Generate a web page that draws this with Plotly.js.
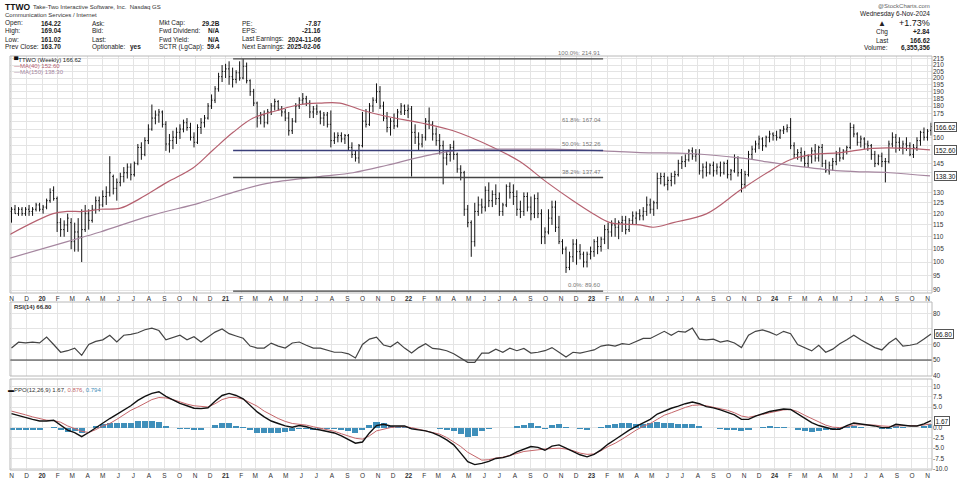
<!DOCTYPE html>
<html><head><meta charset="utf-8">
<script src="https://cdn.plot.ly/plotly-3.0.1.min.js"></script>
<style>html,body{margin:0;padding:0;background:#fff}#c{width:960px;height:480px}</style>
</head><body><div id="c"></div>
<script>
// ---------- DATA (weekly bars from 2019-11-01, one per week) ----------
const firstWeek = '2019-11-01';
const open = [121,122,120,122,120,122,121,122,124,122,123,126,131,127,116,113,115,116,108,112,110,113,120,117,122,126,124,128,130,138,132,135,138,140,143,139,145,154,150,158,165,172,174,176,168,156,158,160,163,165,169,166,160,157,166,169,172,180,184,192,201,205,207,201,199,204,200,209,198,190,182,172,174,169,176,180,183,178,176,172,164,170,180,184,185,182,176,178,176,172,174,168,158,160,161,159,161,154,150,148,155,170,168,180,184,190,180,172,166,170,167,176,180,177,178,163,160,156,160,170,168,162,158,155,148,150,154,150,142,140,122,116,108,121,124,123,131,126,129,127,121,124,133,130,128,122,121,128,123,120,127,120,110,112,118,123,114,108,105,98,102,107,104,103,100,103,104,108,106,109,113,112,115,114,116,117,113,117,118,120,119,121,124,122,125,137,138,134,136,138,139,145,146,147,152,149,150,141,143,140,144,141,143,140,145,139,141,148,140,134,139,150,153,156,159,155,160,162,161,160,164,165,166,155,150,151,148,145,149,152,148,154,145,141,144,146,150,148,152,154,166,162,157,159,156,155,150,145,149,146,146,156,160,157,154,156,155,150,154,158,163,160,164.22];
const high = [123,124,123,123,123,124,123,125,125,124,127,132,133,128,118,117,120,118,116,118,122,124,122,124,128,128,131,133,149,139,137,140,143,145,145,146,156,157,160,168,181,177,178,177,170,162,164,166,168,171,172,169,163,168,172,174,182,188,194,204,210,211,213,208,206,213,214.91,212,199,192,183,176,177,178,182,185,184,180,178,176,172,182,186,189,187,184,180,181,177,176,176,177,163,163,163,162,162,157,152,156,176,178,182,186,196,194,183,176,172,175,178,182,181,181,180,168,163,162,172,179,170,166,162,158,152,156,158,151,144,141,124,117,125,128,127,133,135,131,134,130,125,134,135,134,131,126,130,130,128,129,130,122,114,122,126,126,119,109,106,104,109,109,107,104,104,106,109,110,110,115,116,117,118,117,119,119,118,121,121,122,123,128,127,126,140,140,140,138,140,141,147,149,150,153,154,153,153,145,146,145,146,145,146,146,147,142,150,149,142,141,152,155,158,161,160,161,164,163,164,165,167,168,172,157,153,154,152,150,154,156,155,156,147,146,148,152,154,153,155,169,168,163,161,160,158,156,152,150,151,148,158,163,162,160,158,160,157,156,160,164,166,165,169.04];
const low = [116,120,119,119,119,119,119,121,121,120,122,125,126,112,110,110,112,105,104,104,100,112,113,116,120,121,123,124,128,129,126,133,135,137,136,138,144,147,149,156,164,168,169,166,152,151,153,156,159,163,164,158,154,156,162,166,171,178,182,190,197,200,195,193,196,198,199,196,187,180,166,168,166,168,174,177,177,173,170,161,162,169,178,181,180,172,172,174,168,167,166,154,156,157,157,156,152,148,146,145,154,166,167,176,182,178,170,163,161,165,166,174,174,172,138,156,152,154,158,165,158,155,150,134,144,146,147,140,136,119,114,102,106,119,120,121,123,123,124,119,119,123,127,124,119,118,119,121,117,118,118,107,107,111,115,112,107,103,96,97,100,99,101,98,98,101,102,103,104,107,105,110,110,109,112,111,112,115,115,117,117,119,120,119,122,134,133,131,133,134,138,142,143,146,147,146,139,137,138,139,138,139,138,139,137,136,140,138,130,132,138,147,151,153,152,154,157,158,158,159,162,163,153,148,147,146,143,143,145,146,146,143,140,139,141,144,146,147,150,153,160,155,154,153,152,147,143,144,143,135,145,154,151,152,150,152,149,148,152,155,158,158,161.02];
const close = [122,120,122,120,122,121,122,124,122,123,126,130,127,116,113,115,118,108,112,110,113,120,117,122,126,124,128,130,140,132,135,138,140,143,139,145,154,150,158,165,172,174,176,168,156,158,160,163,165,169,166,160,157,166,169,172,180,184,192,201,205,207,201,199,204,200,209,198,190,182,172,174,169,176,180,183,178,176,172,164,170,180,184,185,182,176,178,176,172,174,168,158,160,161,159,161,154,150,148,155,170,168,180,184,190,180,172,166,170,167,176,180,177,178,163,160,156,160,170,168,162,158,155,148,150,154,150,142,140,122,116,108,121,124,123,131,126,129,127,121,124,133,130,128,122,121,128,123,120,127,120,110,112,118,123,114,108,105,98,102,107,104,103,100,103,104,108,106,109,113,112,115,114,116,117,113,117,119,120,119,121,124,122,125,137,138,134,136,138,139,145,146,147,152,149,150,141,143,140,144,141,143,140,145,139,141,148,140,134,139,150,153,156,159,155,160,162,161,160,164,165,166,155,150,151,148,145,149,152,148,154,145,141,144,146,150,148,152,154,166,162,157,159,156,155,150,145,149,146,146,156,160,157,154,156,155,150,154,158,163,160,163.7,166.62];

// moving averages
const ma40Dates = ['2019-10-29','2020-01-23','2020-02-20','2020-03-23','2020-04-26','2020-06-05','2020-07-14','2020-09-06','2020-10-28','2020-12-07','2021-01-16','2021-02-25','2021-04-14','2021-05-30','2021-07-08','2021-08-17','2021-10-02','2021-11-19','2022-01-24','2022-03-31','2022-06-19','2022-08-11','2022-10-04','2022-11-25','2023-01-04','2023-02-07','2023-04-08','2023-05-04','2023-06-13','2023-08-19','2023-10-24','2023-12-17','2024-02-01','2024-03-18','2024-05-11','2024-07-15','2024-09-21','2024-11-06'];
const ma40 = [111,120,121,121,122,122.5,127,135,142.5,152.5,163,172,177,181,182,182,177,173,169,164,154,146,135,126,120,116,115,114,116,120,131,140,147,150,151,153.5,153.5,152.6];
const ma150Dates = ['2019-10-29','2020-02-20','2020-04-26','2020-08-03','2020-11-11','2021-01-16','2021-03-25','2021-07-08','2021-09-12','2021-11-19','2022-01-24','2022-03-31','2022-06-07','2022-08-11','2022-10-16','2023-01-24','2023-04-08','2023-07-16','2023-10-24','2024-02-01','2024-05-11','2024-08-18','2024-11-06'];
const ma150 = [101.5,108,112,119,125,130,134.5,138,140,144,148.5,152,153,153,153,152,151,150.5,148,144,141,140,138.3];

// Fibonacci retracement
const fibPct = ['100.0%','61.8%','50.0%','38.2%','0.0%'];
const fibLevel = [214.91,167.04,152.26,137.47,89.60];
const fibDrawn = [true,false,true,true,true];
const fibFrom = '2021-01-16', fibTo = '2023-01-24';

// indicators, one value every second week (from first week)
const rsi = [57.7,61.5,61,61.5,61,64.8,60,55,56,57.7,53,60,62,63,66,61.6,66,66.5,67.6,69.5,70.6,69,63,64.5,66,63,65,61.6,64.8,68,70,67,65.5,64,59,57.7,57.7,60.9,59,57.7,61,61.6,59.5,57.7,57.7,56.5,55,55,54,51.3,60,63.5,64.8,59.7,58.5,61.6,57.7,54.5,58,60.5,57.5,57,56,54,51,48.5,48.5,54.5,54.5,57,55,57.7,56,57.5,54.5,55,56,58,55,52,55,54.5,55.5,56.5,59,59.7,59,60.5,60,62,63.9,63.9,66,68.5,66,68.5,68,70.6,63.5,63,63.5,61.6,62.5,61,58,66,68.5,69.4,68,66,68.5,67,60,58,55.9,59.5,55,57,60.5,63,66,63,60.5,58,56.5,61,64,59,59.5,60.5,63.5,66.8];
const ppo = [3.4,2.9,2.4,2.0,1.6,1.6,1.8,0.6,-0.6,-1.2,-2.2,-1.2,0,1.2,2.2,3.2,4.2,5.3,6.6,7.6,8.3,8.7,7.6,6.8,5.9,5.3,4.7,4.6,4.8,6.4,7.8,8.3,7.8,7.0,5.5,3.8,2.6,1.6,1.0,0.4,0.1,0.5,0.2,-0.3,-0.6,-1.0,-1.3,-2.0,-2.8,-3.8,-3.5,-1.3,0.5,0.8,0.4,0.4,0.4,-0.3,-0.6,-0.8,-1.3,-2.0,-3.0,-4.2,-6.2,-8.3,-9.0,-8.7,-8.2,-7.5,-7.3,-6.8,-5.9,-5.2,-4.6,-4.8,-5.5,-4.5,-4.2,-5.0,-5.8,-6.6,-7.1,-6.5,-5.4,-4.0,-2.9,-1.7,-0.6,0.3,1.2,2.0,3.3,4.1,4.7,5.2,5.8,6.2,5.8,5.1,4.8,4.3,3.7,3.1,2.0,2.0,2.8,3.4,3.9,4.2,4.5,4.4,3.4,2.2,1.2,0.5,0,-0.4,-0.4,0.5,1.1,0.9,0.7,0.4,0,0,0.8,0.6,0.4,0.4,0.9,1.67];
const signal = [4.0,3.6,3.1,2.6,2.2,1.8,1.7,1.3,0.4,-0.3,-0.9,-1.2,-0.5,0.4,1.0,2.0,3.2,4.2,5.0,6.0,6.8,7.3,7.2,6.8,6.2,5.7,5.3,5.1,5.0,5.8,6.8,7.3,7.3,6.9,6.0,5.2,4.0,3.0,2.2,1.5,1.0,0.8,0.6,0.2,-0.2,-0.6,-0.9,-1.5,-2.0,-2.6,-2.8,-2.0,-0.8,-0.4,0,0.2,0.2,0,-0.4,-0.8,-1.2,-1.6,-2.4,-3.4,-4.6,-6.0,-7.0,-7.9,-7.8,-7.4,-7.2,-6.8,-6.3,-5.8,-5.6,-5.3,-5.2,-5.1,-5.0,-5.2,-5.6,-6.2,-6.5,-6.4,-5.6,-4.6,-3.8,-2.8,-1.6,-0.6,0.3,1.0,2.0,3.0,3.6,4.3,4.9,5.4,5.5,5.3,4.9,4.6,4.2,3.6,2.8,2.5,2.8,3.2,3.6,4.0,4.3,4.4,3.9,3.0,2.2,1.4,0.6,0.1,0,0.2,0.6,0.7,0.7,0.6,0.4,0.3,0.4,0.5,0.5,0.4,0.6,0.876];

// axis tick labels
const monthLetters = ['J','F','M','A','M','J','J','A','S','O','N','D'];
const priceTicks = [90,95,100,105,110,115,120,125,130,135,140,145,150,155,160,165,170,175,180,185,190,195,200,205,210,215];
const rsiTicks = [40,50,60,70,80];
const ppoTicks = [-10,-7.5,-5,-2.5,0,2.5,5,7.5,10];
const ppoTickText = ['-10.0','-7.5','-5.0','-2.5','0.0','2.5','5.0','7.5','10'];

// ---------- BUILD ----------
const DAY = 864e5;
const t0 = Date.parse(firstWeek + 'T00:00:00Z');
const iso = ms => new Date(ms).toISOString().slice(0,10);
const weekDates = close.map((_, i) => iso(t0 + i*7*DAY));
const biDates = rsi.map((_, k) => iso(t0 + k*14*DAY));
const hist = ppo.map((v, k) => v - signal[k]);
const last = a => a[a.length-1];

const xRange = ['2019-10-29','2024-11-10'];
const tickvals = [], ticktext = [];
for (let y = 2019, m = 10; y < 2025; ) {
  if (y === 2024 && m > 10) break;
  tickvals.push(y + '-' + String(m+1).padStart(2,'0') + '-01');
  ticktext.push(m === 0 ? '<b>' + String(y).slice(2) + '</b>' : monthLetters[m]);
  m++; if (m === 12) { m = 0; y++; }
}

// geometry (pixels -> paper)
const L = 10, W = 922, H = 480;
const PX = x => (x - L) / W;
const PY = y => 1 - y / H;
const priceDom = [PY(293), PY(56)];
const rsiDom = [PY(376), PY(302)];
const ppoDom = [PY(470), PY(379)];
const priceRange = [Math.log10(89.0), Math.log10(217.3)];
const rsiRange = [39.7, 87.4];
const ppoRange = [-10.3, 11.8];

// tick labels that sit under the right-edge value boxes are hidden, as on the original
const GAP = 6.5;
const pricePx = v => (priceDom[1]-priceDom[0])*H * (Math.log10(v)-priceRange[0])/(priceRange[1]-priceRange[0]);
const linPx = (v, dom, r) => (dom[1]-dom[0])*H * (v-r[0])/(r[1]-r[0]);
const priceBoxes = [last(close), last(ma40), last(ma150)];
const priceTickText = priceTicks.map(t => priceBoxes.some(b => Math.abs(pricePx(t)-pricePx(b)) < GAP) ? '' : String(t));
const rsiTickText = rsiTicks.map(t => Math.abs(linPx(t, rsiDom, rsiRange)-linPx(last(rsi), rsiDom, rsiRange)) < GAP ? '' : String(t));
const ppoTickShown = ppoTicks.map((t, j) => Math.abs(linPx(t, ppoDom, ppoRange)-linPx(last(ppo), ppoDom, ppoRange)) < GAP ? '' : ppoTickText[j]);

const FONT = 'Liberation Sans, Arial, sans-serif';
const grid = '#e4e4e4';

const traces = [
  {type:'ohlc', x:weekDates, open, high, low, close, xaxis:'x', yaxis:'y',
   increasing:{line:{color:'#111', width:1}}, decreasing:{line:{color:'#111', width:1}},
   tickwidth:0.3, hoverinfo:'skip'},
  {type:'scatter', mode:'lines', x:ma40Dates, y:ma40, xaxis:'x', yaxis:'y',
   line:{color:'#b5606f', width:1.2, shape:'spline'}, hoverinfo:'skip'},
  {type:'scatter', mode:'lines', x:ma150Dates, y:ma150, xaxis:'x', yaxis:'y',
   line:{color:'#a5869f', width:1.2, shape:'spline'}, hoverinfo:'skip'},
  // carrier for the month-label row under the price panel
  {type:'scatter', mode:'lines', x:xRange, y:[100,100], xaxis:'x2', yaxis:'y',
   line:{width:0, color:'rgba(0,0,0,0)'}, hoverinfo:'skip'}
];
fibLevel.forEach((v, j) => {
  if (!fibDrawn[j]) return;
  traces.push({type:'scatter', mode:'lines', x:[fibFrom, fibTo], y:[v, v], xaxis:'x', yaxis:'y',
    line:{color: j === 2 ? '#3a3f7a' : '#444', width: j === 0 || j === 4 ? 1.2 : 1.5}, hoverinfo:'skip'});
});
traces.push(
  {type:'scatter', mode:'lines', x:xRange, y:[50,50], xaxis:'x', yaxis:'y2',
   line:{color:'#333', width:1}, hoverinfo:'skip'},
  {type:'scatter', mode:'lines', x:biDates, y:rsi, xaxis:'x', yaxis:'y2',
   line:{color:'#444', width:1.2}, hoverinfo:'skip'},
  {type:'bar', x:biDates, y:hist, xaxis:'x', yaxis:'y3', width:12*DAY,
   marker:{color:'#3f8fba', line:{width:0}}, hoverinfo:'skip'},
  {type:'scatter', mode:'lines', x:biDates, y:signal, xaxis:'x', yaxis:'y3',
   line:{color:'#c5666a', width:1}, hoverinfo:'skip'},
  {type:'scatter', mode:'lines', x:biDates, y:ppo, xaxis:'x', yaxis:'y3',
   line:{color:'#111', width:1.4}, hoverinfo:'skip'}
);

const ann = [];
const T = (x, y, text, o = {}) => ann.push(Object.assign({
  xref:'paper', yref:'paper', x:PX(x), y:PY(y), text, showarrow:false,
  xanchor:'left', yanchor:'middle', font:{family:FONT, size:6.5, color:'#222'}}, o));
// header
T(3, 7, '<b>TTWO</b>', {font:{family:FONT, size:8.5, color:'#111'}});
T(31, 7, 'Take-Two Interactive Software, Inc.  Nasdaq GS', {font:{family:FONT, size:6, color:'#333'}});
T(3, 15, 'Communication Services / Internet', {font:{family:FONT, size:6, color:'#333'}});
const rowsY = [23, 31, 39, 47];
const c1 = ['Open:','High:','Low:','Prev Close:'], v1 = ['164.22','169.04','161.02','163.70'];
const c2 = ['Ask:','Bid:','Last:','Optionable:'];
const c3 = ['Mkt Cap:','Fwd Dividend:','Fwd Yield:','SCTR (LgCap):'], v3 = ['29.2B','N/A','N/A','59.4'];
const c4 = ['PE:','EPS:','Last Earnings:','Next Earnings:'], v4 = ['-7.87','-21.16','2024-11-06','2025-02-06'];
rowsY.forEach((y, r) => {
  T(3, y, c1[r]); T(63, y, '<b>' + v1[r] + '</b>', {xanchor:'right'});
  T(90, y, c2[r]);
  T(157, y, c3[r]); T(222, y, '<b>' + v3[r] + '</b>', {xanchor:'right'});
  T(240, y, c4[r]); T(323, y, '<b>' + v4[r] + '</b>', {xanchor:'right'});
});
T(128, 47, '<b>yes</b>');
T(932, 6, '@StockCharts.com', {xanchor:'right', font:{family:FONT, size:6, color:'#666'}});
T(932, 14, 'Wednesday 6-Nov-2024', {xanchor:'right'});
T(876, 23.5, '▲', {font:{family:FONT, size:8, color:'#222'}});
T(932, 23.5, '+1.73%', {xanchor:'right', font:{family:FONT, size:9, color:'#111'}});
T(874, 32, 'Chg'); T(932, 32, '<b>+2.84</b>', {xanchor:'right'});
T(874, 40, 'Last'); T(932, 40, '<b>' + last(close).toFixed(2) + '</b>', {xanchor:'right'});
T(862, 48, 'Volume:'); T(932, 48, '<b>6,355,356</b>', {xanchor:'right'});
// legends
T(12, 59, '<span style="color:#111">▀</span>TTWO (Weekly) ' + last(close).toFixed(2), {font:{family:FONT, size:6, color:'#222'}});
T(12, 65.5, '—MA(40) ' + last(ma40).toFixed(2), {font:{family:FONT, size:6, color:'#b5606f'}});
T(12, 72, '—MA(150) ' + last(ma150).toFixed(2), {font:{family:FONT, size:6, color:'#a5869f'}});
T(12, 307, '<b>RSI(14) ' + last(rsi).toFixed(2) + '</b>', {font:{family:FONT, size:6, color:'#333'}});
T(6, 390, '<span style="color:#111">▬</span>PPO(12,26,9) ' + last(ppo).toFixed(2) +
  ', <span style="color:#c5666a">' + last(signal).toFixed(3) + '</span>, <span style="color:#3f8fba">' +
  last(hist).toFixed(3) + '</span>', {font:{family:FONT, size:6, color:'#333'}});
// fib labels
fibLevel.forEach((v, j) => ann.push({xref:'x', yref:'y', x:fibTo, y:Math.log10(v), showarrow:false,
  xanchor:'right', yanchor:'bottom', yshift:1, text:fibPct[j] + ': ' + v.toFixed(2),
  font:{family:FONT, size:6, color:'#777'}}));
// right-edge value boxes
const box = (yref, y, text) => ann.push({xref:'paper', yref, x:PX(934), y, text, showarrow:false,
  xanchor:'left', yanchor:'middle', bgcolor:'#fff', bordercolor:'#555', borderwidth:1, borderpad:0.5,
  font:{family:FONT, size:6.5, color:'#111'}});
priceBoxes.forEach(v => box('y', Math.log10(v), v.toFixed(2)));
box('y2', last(rsi), last(rsi).toFixed(2));
box('y3', last(ppo), last(ppo).toFixed(2));

// panel frames
const frame = dom => ({type:'rect', xref:'paper', yref:'paper', x0:0, x1:1, y0:dom[0], y1:dom[1],
  line:{color:'#b8b8b8', width:1}, layer:'above'});

const tickfont = {family:FONT, size:6.5, color:'#333'};
const layout = {
  width:960, height:480, margin:{l:L, r:960-L-W, t:0, b:0},
  paper_bgcolor:'#fff', plot_bgcolor:'#fff', showlegend:false, bargap:0,
  font:{family:FONT, size:7, color:'#333'},
  xaxis:{type:'date', range:xRange, anchor:'y3', tickvals, ticktext, tickangle:0, ticks:'',
    gridcolor:grid, zeroline:false, showline:false, tickfont, rangeslider:{visible:false}, fixedrange:true},
  xaxis2:{type:'date', range:xRange, anchor:'y', overlaying:'x', side:'bottom', tickvals, ticktext, tickangle:0, ticks:'',
    showgrid:false, zeroline:false, showline:false, tickfont},
  yaxis:{domain:priceDom, type:'log', range:priceRange, side:'right',
    tickvals:priceTicks, ticktext:priceTickText, gridcolor:grid, zeroline:false, ticks:'', tickfont},
  yaxis2:{domain:rsiDom, range:rsiRange, side:'right', tickvals:rsiTicks, ticktext:rsiTickText, gridcolor:grid,
    zeroline:false, ticks:'', tickfont},
  yaxis3:{domain:ppoDom, range:ppoRange, side:'right', tickvals:ppoTicks, ticktext:ppoTickShown,
    gridcolor:grid, zeroline:false, ticks:'', tickfont},
  annotations:ann,
  shapes:[frame(priceDom), frame(rsiDom), frame(ppoDom)]
};
Plotly.newPlot('c', traces, layout, {staticPlot:true, displayModeBar:false});
</script>
</body></html>
